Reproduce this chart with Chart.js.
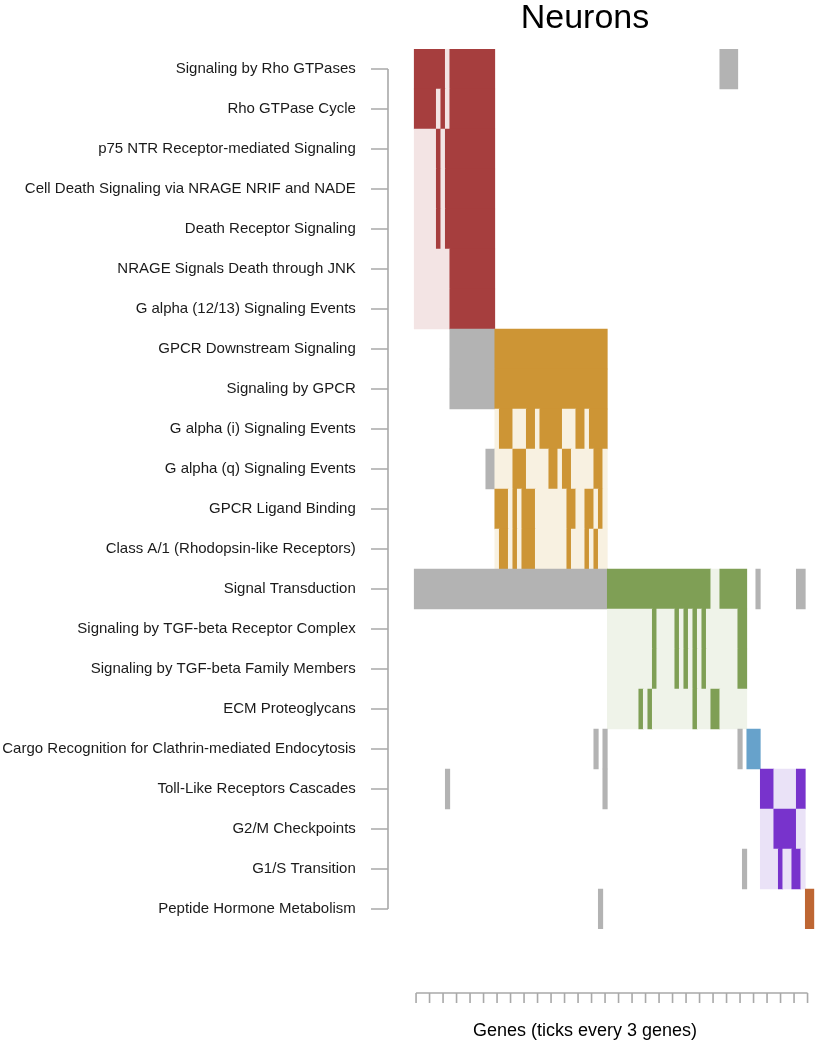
<!DOCTYPE html>
<html lang="en">
<head>
<meta charset="UTF-8">
<title>Neurons</title>
<script src="https://cdn.jsdelivr.net/npm/chart.js"></script>
<style>
  html, body { margin: 0; padding: 0; background: #fff; }
</style>
</head>
<body>
<canvas id="geneChart" width="817" height="1050"></canvas>
<script>
// pathway rows, top to bottom
var pathways = [
  'Signaling by Rho GTPases',
  'Rho GTPase Cycle',
  'p75 NTR Receptor-mediated Signaling',
  'Cell Death Signaling via NRAGE NRIF and NADE',
  'Death Receptor Signaling',
  'NRAGE Signals Death through JNK',
  'G alpha (12/13) Signaling Events',
  'GPCR Downstream Signaling',
  'Signaling by GPCR',
  'G alpha (i) Signaling Events',
  'G alpha (q) Signaling Events',
  'GPCR Ligand Binding',
  'Class A/1 (Rhodopsin-like Receptors)',
  'Signal Transduction',
  'Signaling by TGF-beta Receptor Complex',
  'Signaling by TGF-beta Family Members',
  'ECM Proteoglycans',
  'Cargo Recognition for Clathrin-mediated Endocytosis',
  'Toll-Like Receptors Cascades',
  'G2/M Checkpoints',
  'G1/S Transition',
  'Peptide Hormone Metabolism'
];

var nGenes = 89;

// genes (column numbers) belonging to each pathway
var members = [
  '1-7,9-18,69-72',
  '1-5,7,9-18',
  '6,8-18',
  '6,8-18',
  '6,8-18',
  '9-18',
  '9-18',
  '9-43',
  '9-43',
  '20-22,26-27,29-33,37-38,40-43',
  '17-18,23-25,31-32,34-35,41-42',
  '19-21,23,25-27,35-36,39-40,42',
  '20-21,23,25-27,35,39,41',
  '1-66,69-74,77,86-87',
  '54,59,61,63,65,73-74',
  '54,59,61,63,65,73-74',
  '51,53,63,67-68',
  '41,43,73,75-77',
  '8,43,78-80,86-87',
  '81-85',
  '74,82,85-86',
  '42,88-89'
];

// pathway clusters: rows and gene block of each
var clusterRows  = [[0, 6], [7, 12], [13, 16], [17, 17], [18, 20], [21, 21]];
var clusterGenes = [[1, 18], [19, 43], [44, 74], [75, 77], [78, 87], [88, 89]];
var darkColors  = ['#a63e3e', '#cd9535', '#7f9f55', '#67a2cb', '#7833cc', '#be6633'];
var lightColors = ['#f3e4e4', '#f8f1e1', '#eff3e9', '#e3eef6', '#eae2f7', '#f6e6dc'];
var outsideColor = '#b3b3b3';

var geneTicks = [1, 4, 7, 10, 13, 16, 19, 22, 25, 28, 31, 34, 37, 40, 43,
                 46, 49, 52, 55, 58, 61, 64, 67, 70, 73, 76, 79, 82, 85, 88];

function parseSet(s) {
  var out = {};
  s.split(',').forEach(function (part) {
    var p = part.split('-');
    var a = parseInt(p[0]), b = parseInt(p[p.length - 1]);
    for (var g = a; g <= b; g++) out[g] = true;
  });
  return out;
}

// build cells, merging runs of the same colour into one floating bar
var cells = [], cellColors = [];
pathways.forEach(function (name, r) {
  var c = 0;
  for (var k = 0; k < clusterRows.length; k++) {
    if (r >= clusterRows[k][0] && r <= clusterRows[k][1]) c = k;
  }
  var set = parseSet(members[r]);
  var runStart = null, runColor = null;
  for (var g = 1; g <= nGenes + 1; g++) {
    var col = null;
    if (g <= nGenes) {
      var inBlock = g >= clusterGenes[c][0] && g <= clusterGenes[c][1];
      if (inBlock) col = set[g] ? darkColors[c] : lightColors[c];
      else if (set[g]) col = outsideColor;
    }
    if (col !== runColor) {
      if (runColor) {
        cells.push({ x: [runStart - 0.5, g - 0.5], y: name });
        cellColors.push(runColor);
      }
      runStart = g;
      runColor = col;
    }
  }
});

var axisColor = '#a9a9a9';
var fontFam = '"Liberation Sans", Arial, sans-serif';

var rAxes = {
  id: 'rAxes',
  afterDraw: function (chart) {
    var ctx = chart.ctx;
    var ys = chart.scales.y, xs = chart.scales.x;
    ctx.save();
    ctx.strokeStyle = axisColor;
    ctx.lineWidth = 1.6;
    // y axis, set off to the left of the plot
    var ax = 388;
    var y0 = ys.getPixelForValue(0), y1 = ys.getPixelForValue(pathways.length - 1);
    ctx.beginPath();
    ctx.moveTo(ax, y0);
    ctx.lineTo(ax, y1);
    for (var i = 0; i < pathways.length; i++) {
      var py = ys.getPixelForValue(i);
      ctx.moveTo(ax - 17, py);
      ctx.lineTo(ax, py);
    }
    ctx.stroke();
    // gene axis below the plot
    var ay = 993;
    ctx.beginPath();
    ctx.moveTo(xs.getPixelForValue(geneTicks[0]), ay);
    ctx.lineTo(xs.getPixelForValue(geneTicks[geneTicks.length - 1]), ay);
    geneTicks.forEach(function (g) {
      var px = xs.getPixelForValue(g);
      ctx.moveTo(px, ay);
      ctx.lineTo(px, ay + 10);
    });
    ctx.stroke();
    // titles
    ctx.fillStyle = '#000';
    ctx.textAlign = 'center';
    ctx.textBaseline = 'middle';
    ctx.font = '34px ' + fontFam;
    ctx.fillText('Neurons', 585, 19);
    ctx.font = '18px ' + fontFam;
    ctx.fillText('Genes (ticks every 3 genes)', 585, 1031);
    ctx.restore();
  }
};

var chart = new Chart(document.getElementById('geneChart').getContext('2d'), {
  type: 'bar',
  data: {
    labels: pathways,
    datasets: [{
      data: cells,
      backgroundColor: cellColors,
      borderWidth: 0,
      barPercentage: 1,
      categoryPercentage: 1,
      grouped: false
    }]
  },
  options: {
    indexAxis: 'y',
    responsive: false,
    animation: false,
    layout: { padding: { top: 49, right: 2.7, bottom: 121, left: 0 } },
    plugins: { legend: { display: false }, tooltip: { enabled: false } },
    scales: {
      x: { type: 'linear', min: 0.5, max: nGenes + 0.5, display: false },
      y: {
        type: 'category',
        offset: true,
        grid: { display: false, drawTicks: false },
        border: { display: false },
        ticks: {
          autoSkip: false,
          padding: 58,
          color: '#1a1a1a',
          font: { family: fontFam, size: 15 }
        },
        afterFit: function (scale) {
          scale.width = 413.8;
          scale.paddingTop = 0;
          scale.paddingBottom = 0;
        }
      }
    }
  },
  plugins: [rAxes]
});
</script>
</body>
</html>
